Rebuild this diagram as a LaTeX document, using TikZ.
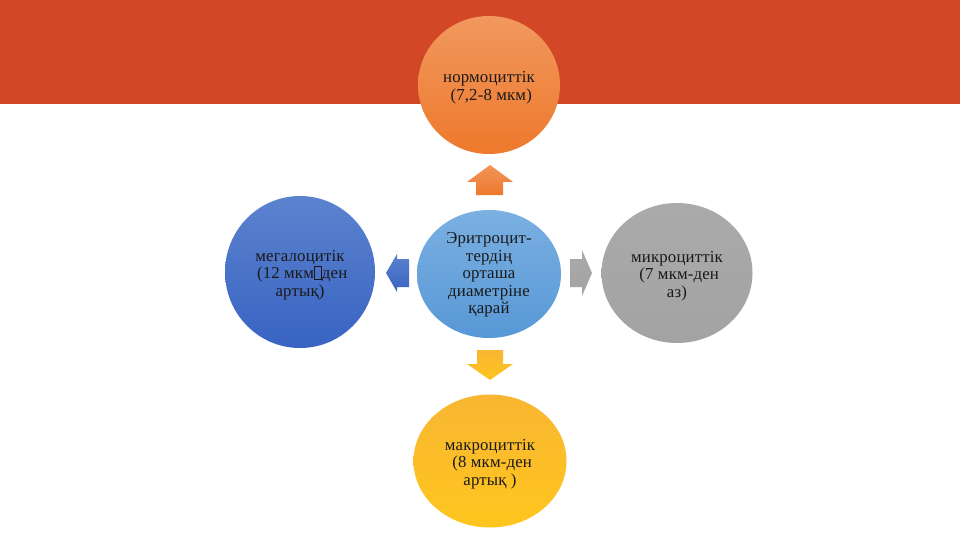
\documentclass[tikz,border=0pt]{standalone}
\usepackage{fontspec}
\setmainfont[LetterSpace=1]{Liberation Serif}
\usetikzlibrary{shapes.geometric}
\definecolor{banner}{RGB}{210,71,38}
\definecolor{orgtop}{RGB}{241,152,94}
\definecolor{orgbot}{RGB}{238,121,44}
\definecolor{blutop}{RGB}{92,131,207}
\definecolor{blubot}{RGB}{56,99,194}
\definecolor{centop}{RGB}{123,176,226}
\definecolor{cenbot}{RGB}{88,152,214}
\definecolor{grytop}{RGB}{170,170,170}
\definecolor{grybot}{RGB}{163,163,163}
\definecolor{yeltop}{RGB}{248,182,50}
\definecolor{yelbot}{RGB}{255,198,30}
\definecolor{txt}{RGB}{25,25,25}
\newcommand\gbox{{\setlength\fboxsep{0pt}\setlength\fboxrule{0.5pt}\fbox{\rule{0pt}{0.72em}\hspace{0.42em}}}}
\tikzset{
  bub/.style={ellipse, inner sep=0pt},
  bubtext/.style={align=center, text=txt, inner sep=0pt,
    font=\fontsize{16.8}{17.6}\selectfont},
  blockarrow/.style={draw=none}
}
\begin{document}
\begin{tikzpicture}[x=1pt,y=-1pt]
\useasboundingbox (0,0) rectangle (960,540);
\fill[white] (0,0) rectangle (960,540);
\fill[banner] (0,0) rectangle (960,104);

\node[bub, top color=centop, bottom color=cenbot, minimum width=144pt, minimum height=128pt] (center) at (489,274) {};
\node[bub, top color=orgtop, bottom color=orgbot, minimum width=142pt, minimum height=138pt] (norm) at (489,85) {};
\node[bub, top color=blutop, bottom color=blubot, minimum width=150pt, minimum height=152pt] (mega) at (300,272) {};
\node[bub, top color=grytop, bottom color=grybot, minimum width=151pt, minimum height=140pt] (micro) at (677,273) {};
\node[bub, top color=yeltop, bottom color=yelbot, minimum width=153pt, minimum height=133pt] (macro) at (490,461) {};

\node[bubtext, yshift=-1pt] (center-t) at (center.center)
  {Эритроцит-\\тердің\\орташа\\диаметріне\\қарай};
\node[bubtext, yshift=-3pt] (norm-t) at (norm.center)
  {нормоциттік\\\ (7,2-8 мкм)};
\node[bubtext, yshift=-3pt] (mega-t) at (mega.center)
  {мегалоцитік\\\ (12 мкм\gbox ден\\артық)};
\node[bubtext, yshift=-3pt] (micro-t) at (micro.center)
  {микроциттік\\\ (7 мкм-ден\\аз)};
\node[bubtext, yshift=-3pt] (macro-t) at (macro.center)
  {макроциттік\\\ (8 мкм-ден\\артық )};

% block arrows
\shade[blockarrow, top color=orgtop!90!orgbot, bottom color=orgbot]
  (476,195) -- (476,182) -- (467,182) -- (490,165) -- (513,182) -- (503,182) -- (503,195) -- cycle;
\shade[blockarrow, top color=yeltop, bottom color=yelbot!90!yeltop]
  (477,350) -- (503,350) -- (503,364) -- (513,364) -- (490,380) -- (467,364) -- (477,364) -- cycle;
\shade[blockarrow, top color=blutop, bottom color=blubot]
  (409,259) -- (397,259) -- (397,254) -- (386,273) -- (397,292) -- (397,287) -- (409,287) -- cycle;
\shade[blockarrow, top color=grytop, bottom color=grybot]
  (570,259) -- (582,259) -- (582,250) -- (592,273) -- (582,296) -- (582,287) -- (570,287) -- cycle;
\end{tikzpicture}
\end{document}
